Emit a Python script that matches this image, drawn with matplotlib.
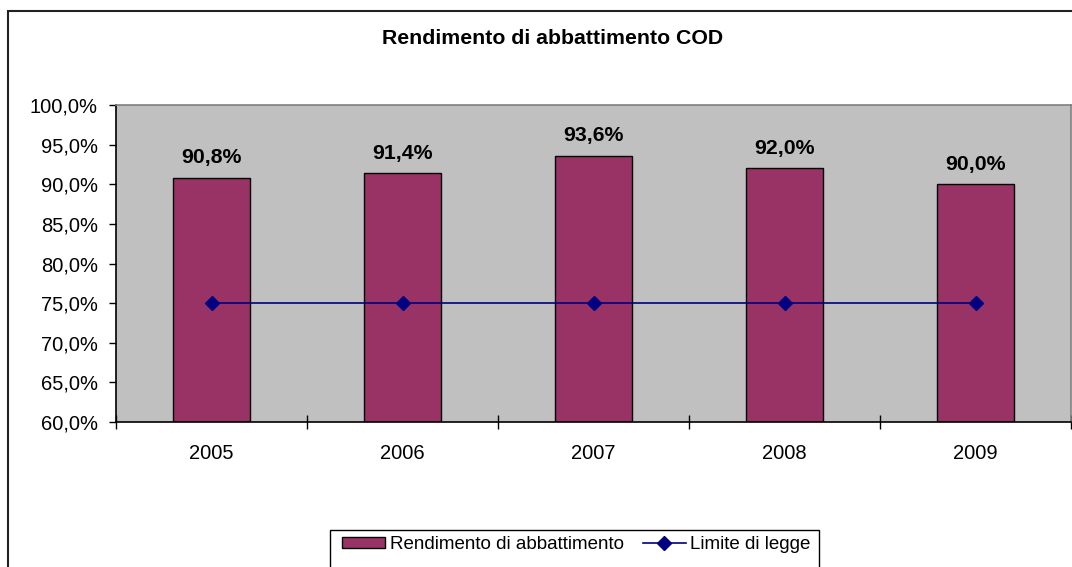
import numpy as np
import matplotlib
matplotlib.use('Agg')
import matplotlib.pyplot as plt
from matplotlib.patches import Rectangle
from matplotlib.ticker import FixedLocator, FuncFormatter

plt.rcParams['font.family'] = ['Liberation Sans', 'DejaVu Sans']

# data
years = ['2005', '2006', '2007', '2008', '2009']
rendimento = [90.8, 91.4, 93.6, 92.0, 90.0]
limite = [75.0, 75.0, 75.0, 75.0, 75.0]
yticks = [60, 65, 70, 75, 80, 85, 90, 95, 100]

bar_color = '#993366'
line_color = '#000080'

W, H = 1072, 567
fig = plt.figure(figsize=(W / 100, H / 100), dpi=100)

# outer chart border (Excel chart area), runs past right/bottom edges
fig.patches.append(Rectangle((8 / W, -0.05), 1.2, (H - 11) / H + 0.05,
                             transform=fig.transFigure, fill=False,
                             edgecolor='#222222', linewidth=1.5))

ax = fig.add_axes([116 / W, 145 / H, 955 / W, 317 / H])
ax.set_facecolor('#C0C0C0')

x = np.arange(len(years)) + 0.5
bars = ax.bar(x, [r - 60 for r in rendimento], bottom=60, width=0.4,
              color=bar_color, edgecolor='black', linewidth=1.0, zorder=2,
              label='Rendimento di abbattimento')
line, = ax.plot(x, limite, color=line_color, linewidth=1.2, marker='D',
                markersize=7.5, zorder=3, label='Limite di legge')

for xi, v in zip(x, rendimento):
    ax.annotate(f'{v:.1f}%'.replace('.', ','), (xi, v), xytext=(0, 7.5),
                textcoords='offset points', ha='center', va='bottom',
                fontsize=15.3, fontweight='bold')

ax.set_xlim(0, len(years))
ax.set_ylim(60, 100)
ax.set_yticks(yticks)
ax.yaxis.set_major_formatter(FuncFormatter(lambda v, p: f'{v:.1f}%'.replace('.', ',')))
ax.tick_params(axis='y', direction='out', length=5, width=1, pad=8, labelsize=14.5)

ax.xaxis.set_major_locator(FixedLocator(np.arange(len(years) + 1)))
ax.xaxis.set_minor_locator(FixedLocator(x))
ax.set_xticklabels([], minor=False)
ax.set_xticklabels(years, minor=True)
ax.tick_params(axis='x', which='major', direction='inout', length=9.5, width=1)
ax.tick_params(axis='x', which='minor', length=0, pad=16, labelsize=14.5)

for side in ['top', 'right']:
    ax.spines[side].set_color('#808080')
    ax.spines[side].set_linewidth(1.2)
for side in ['left', 'bottom']:
    ax.spines[side].set_color('black')
    ax.spines[side].set_linewidth(1.2)

fig.text(553 / W, 1 - 39 / H, 'Rendimento di abbattimento COD', ha='center',
         va='center', fontsize=15.3, fontweight='bold')

# legend box drawn by hand so it can run off the bottom edge like the original
fig.patches.append(Rectangle((330 / W, -0.05), 489 / W, (H - 530) / H + 0.05,
                             transform=fig.transFigure, facecolor='white',
                             edgecolor='black', linewidth=1.0, zorder=5))
leg = fig.legend([bars, line], ['Rendimento di abbattimento', 'Limite di legge'],
                 loc='upper left', bbox_to_anchor=(342 / W, 1 - 536 / H),
                 ncol=2, fontsize=13.5, frameon=False,
                 borderpad=0, handlelength=2.3, handleheight=0.55,
                 columnspacing=1.0, handletextpad=0.25, borderaxespad=0)
leg.set_zorder(6)

fig.savefig('out.png', dpi=100)
